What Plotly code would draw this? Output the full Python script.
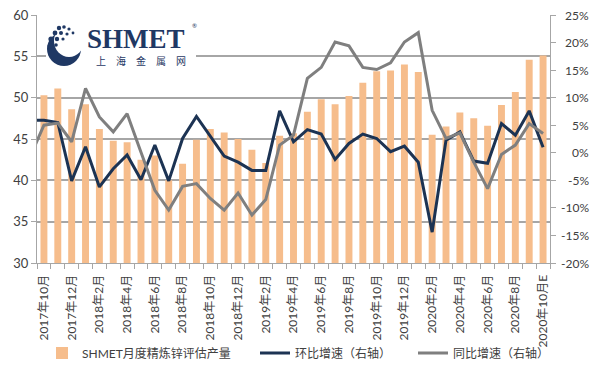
import plotly.graph_objects as go

# ---- data ----
months = ["2017年10月", "2017年11月", "2017年12月", "2018年1月", "2018年2月", "2018年3月",
          "2018年4月", "2018年5月", "2018年6月", "2018年7月", "2018年8月", "2018年9月",
          "2018年10月", "2018年11月", "2018年12月", "2019年1月", "2019年2月", "2019年3月",
          "2019年4月", "2019年5月", "2019年6月", "2019年7月", "2019年8月", "2019年9月",
          "2019年10月", "2019年11月", "2019年12月", "2020年1月", "2020年2月", "2020年3月",
          "2020年4月", "2020年5月", "2020年6月", "2020年7月", "2020年8月", "2020年9月",
          "2020年10月E"]
production = [50.3, 51.1, 48.6, 49.2, 46.2, 44.8, 44.6, 42.5, 43.0, 40.0, 42.0, 44.9,
              46.2, 45.8, 45.0, 43.7, 42.1, 45.4, 45.7, 48.3, 49.8, 49.2, 50.2, 51.8,
              53.2, 53.3, 54.0, 53.1, 45.5, 46.5, 48.2, 47.5, 46.6, 49.1, 50.7, 54.6, 55.1]
# line series start one month earlier (2017年9月), which falls just outside the plot area
line_months = ["2017年9月"] + months
mom_growth = [5.9, 5.9, 5.5, -5.1, 1.1, -6.2, -2.9, -0.4, -4.9, 1.4, -5.1, 2.6, 6.6,
              3.0, -0.6, -1.7, -3.2, -3.2, 7.6, 2.0, 4.2, 3.4, -1.2, 1.7, 3.4, 2.6,
              0.2, 1.2, -1.7, -14.4, 2.3, 3.8, -1.5, -1.9, 5.3, 3.2, 7.6, 1.0]
yoy_growth = [-0.7, 5.0, 5.4, 2.0, 11.7, 6.5, 3.8, 7.1, 0.1, -6.8, -10.4, -6.1, -5.6,
              -8.3, -10.4, -7.3, -11.3, -8.5, 1.4, 3.2, 13.5, 15.5, 20.1, 19.4, 15.5,
              15.1, 16.3, 20.1, 21.8, 7.7, 2.6, 3.6, -1.7, -6.5, -0.3, 1.4, 5.3, 3.5]
left_ticks = [30, 35, 40, 45, 50, 55, 60]
right_ticks = [-20, -15, -10, -5, 0, 5, 10, 15, 20, 25]
right_ticktext = ["-20%", "-15%", "-10%", "-5%", "0%", "5%", "10%", "15%", "20%", "25%"]

bar_x = list(range(len(months)))
line_x = list(range(-1, len(months)))
label_idx = bar_x[::2]

FONT = "Lato, 'Noto Sans CJK SC', sans-serif"
GRID = "#A6A6A6"
TXT = "#404040"
NAVY = "#1F3864"

# the page body adds an 8px margin, so the figure is laid out 8px up/left of screen coords
OFF = 8
W, H = 600 - OFF, 388 - OFF
L, R, T, B = 37 - OFF, 550 - OFF, 15 - OFF, 263 - OFF   # plot area in figure px


def sx(x):  # screen x -> paper
    return (x - OFF - L) / (R - L)


def sy(y):  # screen y -> paper
    return (B - (y - OFF)) / (B - T)


fig = go.Figure()
fig.add_trace(go.Bar(x=bar_x, y=production, name="SHMET月度精炼锌评估产量",
                     marker=dict(color="#F6BD8C", line=dict(width=0)), width=0.5,
                     yaxis="y", legend="legend"))
fig.add_trace(go.Scatter(x=line_x, y=mom_growth, name="环比增速（右轴）", mode="lines",
                         line=dict(color="#1C3353", width=3), yaxis="y2",
                         customdata=line_months, legend="legend2"))
fig.add_trace(go.Scatter(x=line_x, y=yoy_growth, name="同比增速（右轴）", mode="lines",
                         line=dict(color="#7F7F7F", width=3), yaxis="y2",
                         customdata=line_months, legend="legend3"))

shapes = [
    dict(type="rect", xref="paper", yref="paper", x0=sx(46), x1=sx(196), y0=sy(68), y1=sy(21),
         fillcolor="white", line=dict(width=0), layer="above"),
    dict(type="circle", xref="paper", yref="paper", x0=sx(47), x1=sx(81), y0=sy(66), y1=sy(32),
         fillcolor=NAVY, line=dict(width=0), layer="above"),
    dict(type="circle", xref="paper", yref="paper", x0=sx(54), x1=sx(84), y0=sy(57), y1=sy(25),
         fillcolor="white", line=dict(width=0), layer="above"),
]
dots = [(59, 28, 2.2), (64, 27, 1.8), (69, 29, 1.6), (55, 33, 2.4), (61, 33, 2.0), (67, 34, 1.6),
        (51, 39, 2.6), (57, 39, 2.2), (63, 39, 1.6), (50, 46, 2.4), (56, 45, 1.8), (73, 33, 1.4)]
for cx, cy, r in dots:
    shapes.append(dict(type="circle", xref="paper", yref="paper", x0=sx(cx - r), x1=sx(cx + r),
                       y0=sy(cy + r), y1=sy(cy - r), fillcolor=NAVY,
                       line=dict(width=0), layer="above"))

annotations = [
    dict(text="<b>SHMET</b>", xref="paper", yref="paper", x=sx(85), y=sy(39),
         xanchor="left", yanchor="middle", showarrow=False,
         font=dict(family="Liberation Serif, serif", size=27, color=NAVY)),
    dict(text="®", xref="paper", yref="paper", x=sx(190), y=sy(26), xanchor="left",
         yanchor="middle", showarrow=False, font=dict(size=6, color=NAVY)),
    dict(text="上　海　金　属　网", xref="paper", yref="paper", x=sx(141), y=sy(61),
         xanchor="center", yanchor="middle", showarrow=False,
         font=dict(family="'Noto Sans CJK SC'", size=10, color=NAVY)),
]
# right-axis labels, right-aligned like the reference
for v, t in zip(right_ticks, right_ticktext):
    annotations.append(dict(text=t, xref="paper", yref="y2", x=sx(591), y=v,
                            xanchor="right", yanchor="middle", showarrow=False,
                            font=dict(size=12, color=TXT)))

leg_common = dict(orientation="h", xref="container", yref="container",
                  y=1 - (353 - OFF) / H, yanchor="middle", xanchor="left",
                  font=dict(size=12, color=TXT), bgcolor="rgba(0,0,0,0)")

fig.update_layout(
    width=W, height=H,
    margin=dict(l=L, r=W - R, t=T, b=H - B, autoexpand=False),
    paper_bgcolor="white", plot_bgcolor="white",
    font=dict(family=FONT, size=12, color=TXT),
    showlegend=True,
    legend=dict(x=34 / W, **leg_common),
    legend2=dict(x=247 / W, **leg_common),
    legend3=dict(x=405 / W, **leg_common),
    xaxis=dict(range=[-0.5, len(months) - 0.5], tickmode="array", tickvals=label_idx,
               ticktext=[months[i] for i in label_idx], tickangle=-90, ticks="",
               ticklabelstandoff=6, showgrid=False, showline=True, linecolor=GRID,
               linewidth=1, zeroline=False, automargin=False, ticklabeloverflow="allow",
               tickfont=dict(size=12, color=TXT),
               minor=dict(tickmode="linear", tick0=-0.5, dtick=1, ticks="outside",
                          ticklen=5, tickcolor=GRID, showgrid=False)),
    yaxis=dict(range=[30, 60], tickmode="array", tickvals=left_ticks, showgrid=True,
               gridcolor=GRID, gridwidth=1.5, showline=True, linecolor=GRID,
               ticks="outside", ticklen=5, tickcolor=GRID, zeroline=False,
               automargin=False, ticklabeloverflow="allow",
               tickfont=dict(size=13, color=TXT)),
    yaxis2=dict(range=[-20, 25], overlaying="y", side="right", tickmode="array",
                tickvals=right_ticks, showticklabels=False, showgrid=False,
                showline=True, linecolor=GRID, ticks="outside", ticklen=5,
                tickcolor=GRID, zeroline=False, automargin=False),
    shapes=shapes,
    annotations=annotations,
)

fig.write_html("out.html")
